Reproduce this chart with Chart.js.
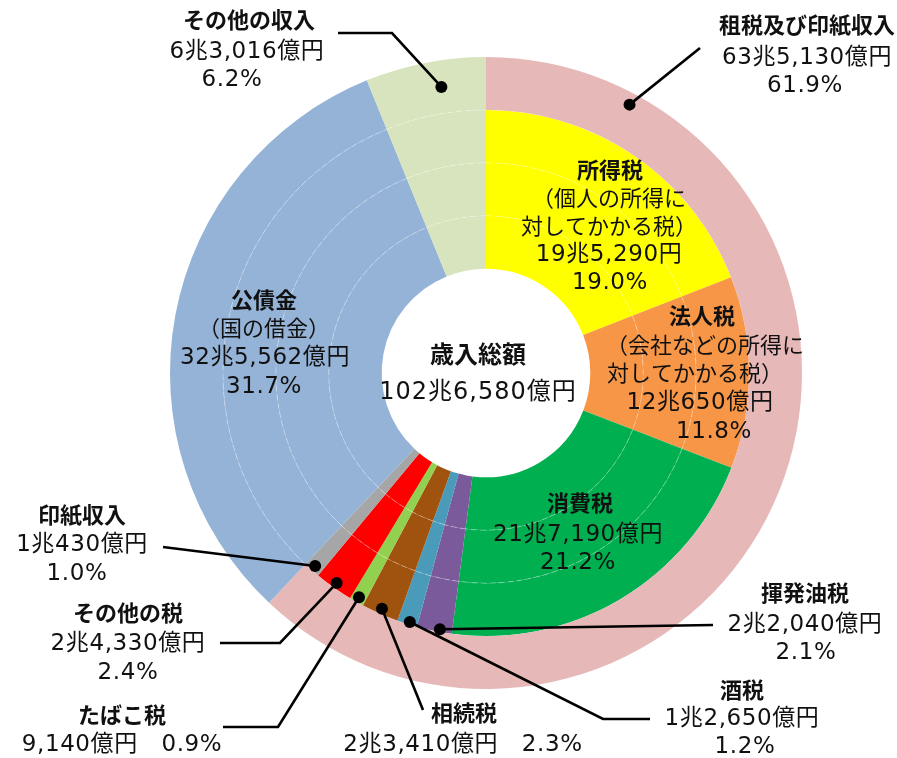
<!DOCTYPE html>
<html lang="ja">
<head>
<meta charset="utf-8">
<script src="https://cdn.jsdelivr.net/npm/chart.js@4/dist/chart.umd.min.js"></script>
<style>
  html, body { margin: 0; padding: 0; background: #fff; }
  #wrap { width: 897px; height: 758px; }
</style>
</head>
<body>
<div id="wrap"><canvas id="chartSainyu"></canvas></div>
<script>
// 歳入の内訳（億円）
const uchiwakeKategori = ['所得税', '法人税', '消費税', '揮発油税', '酒税', '相続税', 'たばこ税', 'その他の税', '印紙収入', '公債金', 'その他の収入'];
const uchiwakeGaku = [195290, 120650, 217190, 22040, 12650, 23410, 9140, 24330, 10430, 325562, 63016];
const uchiwakeIro = ['#FFFF00', '#F79646', '#00B050', '#7B5A9C', '#4A9BB9', '#A0520F', '#92D050', '#FF0000', '#A6A6A6', '#95B3D7', '#D7E4BD'];

// 外側の輪（大分類）
const taiKategori = ['租税及び印紙収入', '公債金', 'その他の収入'];
const taiGaku = [635130, 325562, 63016];
const taiIro = ['#E6B9B8', '#95B3D7', '#D7E4BD'];

const FONT = '"DejaVu Sans", "Noto Sans CJK JP", sans-serif';

// 引き出し線つきラベル（点は円弧から計算、文字位置はレイアウト）
// 文字: [テキスト, x, y, 種類]  種類 b=見出し(太字), n=金額・割合, c=中央
const hikidashi = [
  { ds: 0, idx: 2, f: 0.6, g: 0.5, sen: [[392, 33], [338, 33]],
    moji: [['その他の収入', 249, 22, 'b'], ['6兆3,016億円', 247, 52, 'n'], ['6.2%', 232, 80, 'n']] },
  { ds: 0, idx: 0, f: 0.126, g: 0.78, sen: [[700, 48]],
    moji: [['租税及び印紙収入', 807, 27, 'b'], ['63兆5,130億円', 807, 58, 'n'], ['61.9%', 805, 86, 'n']] },
  { ds: 1, idx: 8, f: 0.5, g: 0.9, sen: [[163, 547]],
    moji: [['印紙収入', 82, 517, 'b'], ['1兆430億円', 82, 545, 'n'], ['1.0%', 77, 574, 'n']] },
  { ds: 1, idx: 7, f: 0.5, g: 0.9, sen: [[280, 643], [220, 643]],
    moji: [['その他の税', 128, 615, 'b'], ['2兆4,330億円', 128, 644, 'n'], ['2.4%', 128, 673, 'n']] },
  { ds: 1, idx: 6, f: 0.5, g: 0.9, sen: [[278, 727], [223, 727]],
    moji: [['たばこ税', 122, 717, 'b'], ['9,140億円　0.9%', 122, 745, 'n']] },
  { ds: 1, idx: 5, f: 0.5, g: 0.9, sen: [[423, 710]],
    moji: [['相続税', 464, 715, 'b'], ['2兆3,410億円　2.3%', 463, 745, 'n']] },
  { ds: 1, idx: 4, f: 0.4, g: 0.95, sen: [[603, 719], [650, 719]],
    moji: [['酒税', 742, 692, 'b'], ['1兆2,650億円', 742, 719, 'n'], ['1.2%', 745, 747, 'n']] },
  { ds: 1, idx: 3, f: 0.35, g: 0.95, sen: [[713, 625]],
    moji: [['揮発油税', 805, 595, 'b'], ['2兆2,040億円', 805, 625, 'n'], ['2.1%', 806, 653, 'n']] }
];

// 輪の中に書く文字
const nakaMoji = [
  ['所得税', 610, 172, 'b'], ['（個人の所得に', 609, 200], ['対してかかる税）', 609, 228], ['19兆5,290円', 609, 255, 'n'], ['19.0%', 610, 283, 'n'],
  ['法人税', 702, 318, 'b'], ['（会社などの所得に', 705, 347], ['対してかかる税）', 695, 375], ['12兆650億円', 700, 403, 'n'], ['11.8%', 714, 432, 'n'],
  ['消費税', 580, 505, 'b'], ['21兆7,190億円', 578, 535, 'n'], ['21.2%', 578, 563, 'n'],
  ['公債金', 264, 302, 'b'], ['（国の借金）', 264, 330], ['32兆5,562億円', 265, 358, 'n'], ['31.7%', 264, 387, 'n'],
  ['歳入総額', 478, 357, 'h'], ['102兆6,580億円', 478, 393, 'c']
];

function kaku(ctx, t) {
  const k = t[3];
  if (k === 'b') { ctx.font = 'bold 22px ' + FONT; ctx.letterSpacing = '0px'; }
  else if (k === 'h') { ctx.font = 'bold 24px ' + FONT; ctx.letterSpacing = '0px'; }
  else if (k === 'n') { ctx.font = '23px ' + FONT; ctx.letterSpacing = '0.6px'; }
  else if (k === 'c') { ctx.font = '24px ' + FONT; ctx.letterSpacing = '1px'; }
  else { ctx.font = '22px ' + FONT; ctx.letterSpacing = '0px'; }
  ctx.fillText(t[0], t[1], t[2]);
}

const kaisetsuPlugin = {
  id: 'kaisetsu',
  afterDatasetsDraw(chart) {
    const ctx = chart.ctx;
    ctx.save();

    // 内側の輪の境目（うすい白線）
    ctx.strokeStyle = 'rgba(255,255,255,0.32)';
    ctx.lineWidth = 1;
    ctx.setLineDash([6, 3]);
    for (let d = 1; d < chart.data.datasets.length; d++) {
      chart.getDatasetMeta(d).data.forEach((arc, i) => {
        if (d === 1 && i < 9) return;
        const p = arc.getProps(['x', 'y', 'startAngle', 'endAngle', 'outerRadius']);
        ctx.beginPath();
        ctx.arc(p.x, p.y, p.outerRadius, p.startAngle, p.endAngle);
        ctx.stroke();
      });
    }
    ctx.setLineDash([]);

    // 引き出し線と点
    hikidashi.forEach(h => {
      const arc = chart.getDatasetMeta(h.ds).data[h.idx];
      const p = arc.getProps(['x', 'y', 'startAngle', 'endAngle', 'innerRadius', 'outerRadius']);
      const a = p.startAngle + h.f * (p.endAngle - p.startAngle);
      const r = p.innerRadius + h.g * (p.outerRadius - p.innerRadius);
      const px = p.x + r * Math.cos(a);
      const py = p.y + r * Math.sin(a);
      ctx.strokeStyle = '#000';
      ctx.lineWidth = 2.6;
      ctx.beginPath();
      ctx.moveTo(px, py);
      h.sen.forEach(s => ctx.lineTo(s[0], s[1]));
      ctx.stroke();
      ctx.fillStyle = '#000';
      ctx.beginPath();
      ctx.arc(px, py, 6, 0, Math.PI * 2);
      ctx.fill();
    });

    // 文字
    ctx.fillStyle = '#111';
    ctx.textAlign = 'center';
    ctx.textBaseline = 'middle';
    hikidashi.forEach(h => h.moji.forEach(t => kaku(ctx, t)));
    nakaMoji.forEach(t => kaku(ctx, t));
    ctx.restore();
  }
};

const uchiwakeSet = {
  data: uchiwakeGaku,
  backgroundColor: uchiwakeIro,
  borderWidth: 0
};

new Chart(document.getElementById('chartSainyu'), {
  type: 'doughnut',
  data: {
    labels: uchiwakeKategori,
    datasets: [
      { label: '大分類', data: taiGaku, backgroundColor: taiIro, borderWidth: 0 },
      Object.assign({ label: '内訳1' }, uchiwakeSet),
      Object.assign({ label: '内訳2' }, uchiwakeSet),
      Object.assign({ label: '内訳3' }, uchiwakeSet)
    ]
  },
  options: {
    responsive: true,
    maintainAspectRatio: false,
    animation: false,
    cutout: '33%',
    layout: { padding: { left: 170, right: 95, top: 57, bottom: 69 } },
    plugins: {
      legend: { display: false },
      tooltip: { enabled: false }
    }
  },
  plugins: [kaisetsuPlugin]
});
</script>
</body>
</html>
